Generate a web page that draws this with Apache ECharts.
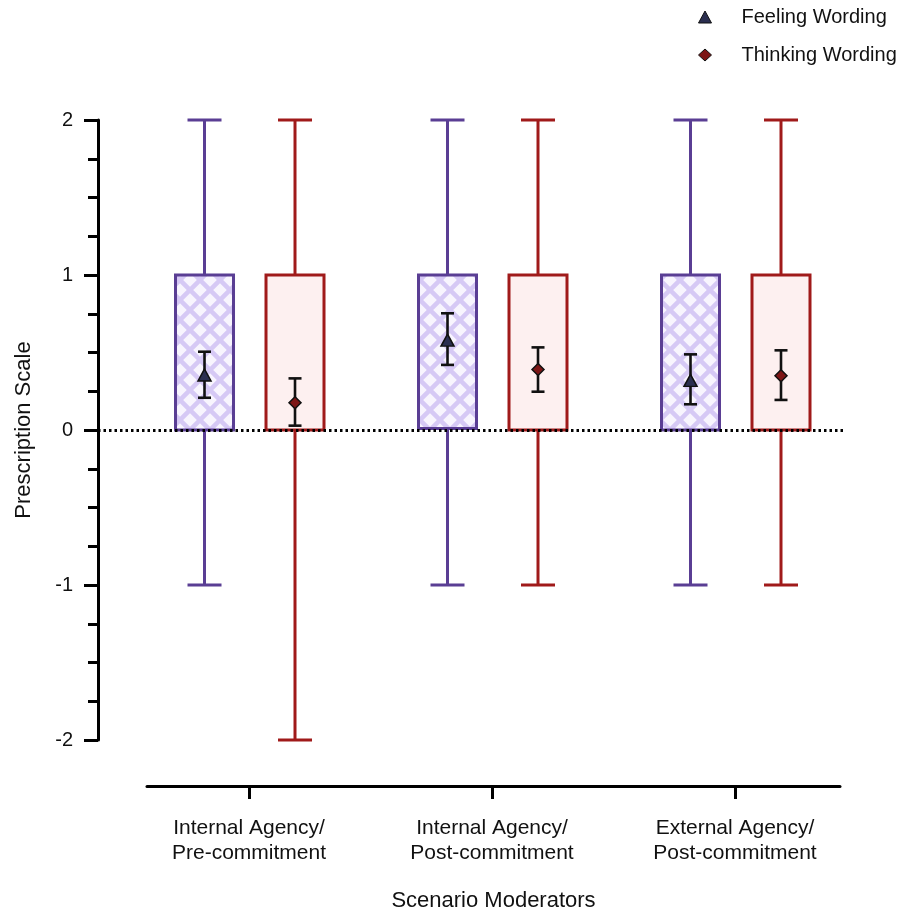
<!DOCTYPE html>
<html><head><meta charset="utf-8">
<script src="https://cdn.jsdelivr.net/npm/echarts@6/dist/echarts.min.js"></script>
<style>html,body{margin:0;padding:0;background:#fff}#c{width:898px;height:911px}</style>
</head><body><div id="c"></div>
<script>
// ---- data ----
const categories = ['Internal Agency/\nPre-commitment', 'Internal Agency/\nPost-commitment', 'External Agency/\nPost-commitment'];
const seriesNames = ['Feeling Wording', 'Thinking Wording'];
const yTickMin = -2, yTickMax = 2, yTickStep = 1;
const feelingMin = [-1, -1, -1];
const feelingQ1 = [0, 0.01, 0];
const feelingQ3 = [1, 1, 1];
const feelingMax = [2, 2, 2];
const thinkingMin = [-2, -1, -1];
const thinkingQ1 = [0, 0, 0];
const thinkingQ3 = [1, 1, 1];
const thinkingMax = [2, 2, 2];
const feelingMean = [0.355, 0.58, 0.32];
const feelingLow = [0.208, 0.42, 0.166];
const feelingHigh = [0.505, 0.753, 0.488];
const thinkingMean = [0.176, 0.39, 0.35];
const thinkingLow = [0.028, 0.247, 0.194];
const thinkingHigh = [0.333, 0.533, 0.514];

// ---- styles ----
const FONT = "'Liberation Sans', Arial, Helvetica, sans-serif";
const PURPLE = '#5a3e94';
const RED = '#a01a1a';
const PINK = '#fdf0f0';
const OFF_F = -44.5, OFF_T = 46, BOX_W = 58, CAP_W = 34, EB_CAP = 13;

function makePattern() {
  const d = 20;
  const cv = document.createElement('canvas');
  cv.width = d; cv.height = d;
  const ctx = cv.getContext('2d');
  ctx.fillStyle = '#f8f5fe';
  ctx.fillRect(0, 0, d, d);
  ctx.strokeStyle = '#d6c9f5';
  ctx.lineWidth = 4.5;
  for (const o of [-d, 0, d]) {
    ctx.beginPath(); ctx.moveTo(o, 0); ctx.lineTo(o + d, d); ctx.stroke();
    ctx.beginPath(); ctx.moveTo(o + d, 0); ctx.lineTo(o, d); ctx.stroke();
  }
  return cv;
}
const hatch = { image: makePattern(), repeat: 'repeat' };

function boxRenderer(offset, color, fill) {
  return function (params, api) {
    const i = api.value(0);
    const xc = api.coord([i, 0])[0] + offset;
    const yMin = api.coord([i, api.value(1)])[1];
    const yQ1 = api.coord([i, api.value(2)])[1];
    const yQ3 = api.coord([i, api.value(3)])[1];
    const yMax = api.coord([i, api.value(4)])[1];
    const ls = { stroke: color, lineWidth: 3 };
    return {
      type: 'group',
      children: [
        { type: 'line', shape: { x1: xc, y1: yQ1, x2: xc, y2: yMin }, style: ls },
        { type: 'line', shape: { x1: xc, y1: yQ3, x2: xc, y2: yMax }, style: ls },
        { type: 'line', shape: { x1: xc - CAP_W / 2, y1: yMin, x2: xc + CAP_W / 2, y2: yMin }, style: ls },
        { type: 'line', shape: { x1: xc - CAP_W / 2, y1: yMax, x2: xc + CAP_W / 2, y2: yMax }, style: ls },
        { type: 'rect', shape: { x: xc - BOX_W / 2, y: yQ3, width: BOX_W, height: yQ1 - yQ3 },
          style: { fill: fill, stroke: color, lineWidth: 3 } }
      ]
    };
  };
}
function errRenderer(offset) {
  return function (params, api) {
    const i = api.value(0);
    const xc = api.coord([i, 0])[0] + offset;
    const yLo = api.coord([i, api.value(1)])[1];
    const yHi = api.coord([i, api.value(2)])[1];
    const ls = { stroke: '#111', lineWidth: 2.6 };
    return {
      type: 'group',
      children: [
        { type: 'line', shape: { x1: xc, y1: yLo, x2: xc, y2: yHi }, style: ls },
        { type: 'line', shape: { x1: xc - EB_CAP / 2, y1: yLo, x2: xc + EB_CAP / 2, y2: yLo }, style: ls },
        { type: 'line', shape: { x1: xc - EB_CAP / 2, y1: yHi, x2: xc + EB_CAP / 2, y2: yHi }, style: ls }
      ]
    };
  };
}

const xs = categories.map((c, i) => i + 1);
const chart = echarts.init(document.getElementById('c'), null, { renderer: 'canvas' });
chart.setOption({
  animation: false,
  backgroundColor: '#fff',
  textStyle: { fontFamily: FONT },
  grid: [
    { left: 98, right: 55, top: 120, bottom: 171, outerBoundsMode: 'none', containLabel: false },
    { left: 147, right: 58, top: 120, bottom: 171, outerBoundsMode: 'none', containLabel: false }
  ],
  legend: {
    orient: 'vertical', left: 693, top: 2, itemWidth: 13, itemHeight: 12, itemGap: 18,
    selectedMode: false,
    textStyle: { fontSize: 20, color: '#111', fontFamily: FONT, padding: [0, 0, 0, 25] },
    data: [
      { name: seriesNames[0], icon: 'triangle', itemStyle: { color: '#2b2f50', borderColor: '#111', borderWidth: 1 } },
      { name: seriesNames[1], icon: 'diamond', itemStyle: { color: '#7d1616', borderColor: '#111', borderWidth: 1 } }
    ]
  },
  xAxis: [
    { gridIndex: 0, type: 'value', min: 0, max: 1, show: false },
    {
      gridIndex: 1, type: 'value', min: 0.5802, max: 3.4321, offset: 46,
      axisLine: { show: true, onZero: false, lineStyle: { color: '#000', width: 3 } },
      axisTick: { show: true, customValues: xs, length: 13, lineStyle: { color: '#000', width: 3 } },
      axisLabel: { customValues: xs, formatter: v => categories[Math.round(v) - 1] || '',
        fontSize: 21, lineHeight: 25, color: '#111', margin: 30, fontFamily: FONT },
      splitLine: { show: false },
      name: 'Scenario Moderators', nameLocation: 'middle', nameGap: 104,
      nameTextStyle: { fontSize: 22, color: '#111', fontFamily: FONT }
    }
  ],
  yAxis: [
    {
      gridIndex: 0, type: 'value', min: yTickMin, max: yTickMax, interval: yTickStep,
      axisLine: { show: true, onZero: false, lineStyle: { color: '#000', width: 3 } },
      axisTick: { show: true, length: 14, lineStyle: { color: '#000', width: 3 } },
      minorTick: { show: true, splitNumber: 4, length: 10, lineStyle: { color: '#000', width: 3 } },
      splitLine: { show: false }, minorSplitLine: { show: false },
      axisLabel: { fontSize: 20, color: '#111', margin: 25, fontFamily: FONT },
      name: 'Prescription Scale', nameLocation: 'middle', nameGap: 63, nameRotate: 90,
      nameTextStyle: { fontSize: 22, color: '#111', fontFamily: FONT }
    },
    { gridIndex: 1, type: 'value', min: yTickMin, max: yTickMax, show: false }
  ],
  series: [
    {
      type: 'line', xAxisIndex: 0, yAxisIndex: 0, data: [], silent: true, z: 1,
      markLine: { silent: true, symbol: 'none', label: { show: false },
        lineStyle: { color: '#000', width: 3, type: [2.5, 3] }, data: [{ yAxis: 0 }] }
    },
    {
      type: 'custom', name: 'fbox', xAxisIndex: 1, yAxisIndex: 1, z: 2,
      renderItem: boxRenderer(OFF_F, PURPLE, hatch),
      data: xs.map((x, i) => [x, feelingMin[i], feelingQ1[i], feelingQ3[i], feelingMax[i]])
    },
    {
      type: 'custom', name: 'tbox', xAxisIndex: 1, yAxisIndex: 1, z: 2,
      renderItem: boxRenderer(OFF_T, RED, PINK),
      data: xs.map((x, i) => [x, thinkingMin[i], thinkingQ1[i], thinkingQ3[i], thinkingMax[i]])
    },
    {
      type: 'custom', name: 'ferr', xAxisIndex: 1, yAxisIndex: 1, z: 3,
      renderItem: errRenderer(OFF_F),
      data: xs.map((x, i) => [x, feelingLow[i], feelingHigh[i]])
    },
    {
      type: 'custom', name: 'terr', xAxisIndex: 1, yAxisIndex: 1, z: 3,
      renderItem: errRenderer(OFF_T),
      data: xs.map((x, i) => [x, thinkingLow[i], thinkingHigh[i]])
    },
    {
      type: 'scatter', name: seriesNames[0], xAxisIndex: 1, yAxisIndex: 1, z: 4,
      symbol: 'triangle', symbolSize: [13, 12], symbolOffset: [OFF_F, 0],
      itemStyle: { color: '#2b2f50', borderColor: '#111', borderWidth: 1.5, opacity: 1 },
      data: xs.map((x, i) => [x, feelingMean[i]])
    },
    {
      type: 'scatter', name: seriesNames[1], xAxisIndex: 1, yAxisIndex: 1, z: 4,
      symbol: 'diamond', symbolSize: [12, 12], symbolOffset: [OFF_T, 0],
      itemStyle: { color: '#7d1616', borderColor: '#111', borderWidth: 1.5, opacity: 1 },
      data: xs.map((x, i) => [x, thinkingMean[i]])
    }
  ]
});
</script>
</body></html>
